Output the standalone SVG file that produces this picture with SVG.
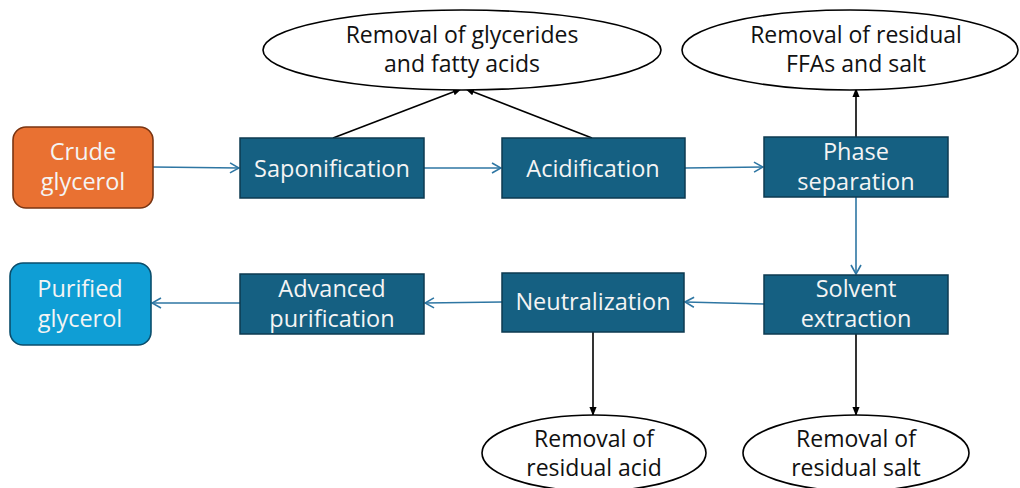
<svg xmlns="http://www.w3.org/2000/svg" width="1020" height="488" viewBox="0 0 1020 488">
<defs>
<style>
.box{fill:#156082;stroke:#0c3a50;stroke-width:1.5}
.ell{fill:#ffffff;stroke:#000000;stroke-width:1.6}
.wt{font-family:"Open Sans","Noto Sans",sans-serif;font-size:23.5px;fill:#f4f4f4;text-anchor:middle}
.bt{font-family:"Open Sans","Noto Sans",sans-serif;font-size:23px;fill:#111111;text-anchor:middle}
.bl{stroke:#2e76a3;stroke-width:1.6;fill:none;marker-end:url(#ab)}
.bk{stroke:#000000;stroke-width:1.6;fill:none;marker-end:url(#ak)}
</style>
<marker id="ab" viewBox="0 0 12 12" refX="11" refY="6" markerWidth="12" markerHeight="12" markerUnits="userSpaceOnUse" orient="auto">
<path d="M2,1 L11,6 L2,11" fill="none" stroke="#2e76a3" stroke-width="1.6"/>
</marker>
<marker id="ak" viewBox="0 0 10 10" refX="9" refY="5" markerWidth="9" markerHeight="9" markerUnits="userSpaceOnUse" orient="auto">
<path d="M0,1 L10,5 L0,9 Z" fill="#000000"/>
</marker>
</defs>
<rect width="1020" height="488" fill="#ffffff"/>
<g id="connectors">
<line class="bl" x1="153" y1="167" x2="239" y2="168"/>
<line class="bl" x1="424" y1="168" x2="501" y2="168"/>
<line class="bl" x1="685" y1="168" x2="763" y2="167"/>
<line class="bl" x1="856" y1="197" x2="856" y2="274"/>
<line class="bl" x1="764" y1="304" x2="685" y2="302"/>
<line class="bl" x1="502" y1="302" x2="425" y2="303"/>
<line class="bl" x1="240" y1="303" x2="152" y2="303"/>
<line class="bk" x1="333" y1="138" x2="461" y2="89"/>
<line class="bk" x1="592" y1="138" x2="466" y2="89"/>
<line class="bk" x1="856" y1="137" x2="856" y2="89"/>
<line class="bk" x1="593" y1="332" x2="593" y2="415"/>
<line class="bk" x1="856" y1="334" x2="856" y2="415"/>
</g>
<g id="crude">
<rect x="13" y="127" width="140" height="81" rx="13" fill="#e97132" stroke="#7a3512" stroke-width="1.6"/>
<text class="wt" x="83" y="160">Crude</text>
<text class="wt" x="83" y="190">glycerol</text>
</g>
<g id="saponification">
<rect class="box" x="240" y="138" width="184" height="60"/>
<text class="wt" x="332" y="177">Saponification</text>
</g>
<g id="acidification">
<rect class="box" x="502" y="138" width="183" height="60"/>
<text class="wt" x="593" y="177">Acidification</text>
</g>
<g id="phase">
<rect class="box" x="764" y="137" width="184" height="60"/>
<text class="wt" x="856" y="160">Phase</text>
<text class="wt" x="856" y="190">separation</text>
</g>
<g id="solvent">
<rect class="box" x="764" y="275" width="184" height="59"/>
<text class="wt" x="856" y="297">Solvent</text>
<text class="wt" x="856" y="327">extraction</text>
</g>
<g id="neutralization">
<rect class="box" x="502" y="273" width="182" height="59"/>
<text class="wt" x="593" y="310">Neutralization</text>
</g>
<g id="advanced">
<rect class="box" x="240" y="274" width="184" height="60"/>
<text class="wt" x="332" y="297">Advanced</text>
<text class="wt" x="332" y="327">purification</text>
</g>
<g id="purified">
<rect x="10" y="263" width="141" height="82" rx="13" fill="#0f9ed5" stroke="#0b4e6c" stroke-width="1.6"/>
<text class="wt" x="80" y="297">Purified</text>
<text class="wt" x="80" y="327">glycerol</text>
</g>
<g id="removal-glycerides">
<ellipse class="ell" cx="462" cy="50" rx="199" ry="40"/>
<text class="bt" x="462" y="43">Removal of glycerides</text>
<text class="bt" x="462" y="72">and fatty acids</text>
</g>
<g id="removal-ffas">
<ellipse class="ell" cx="850" cy="50" rx="168" ry="40"/>
<text class="bt" x="856" y="43">Removal of residual</text>
<text class="bt" x="856" y="72">FFAs and salt</text>
</g>
<g id="removal-acid">
<ellipse class="ell" cx="594" cy="453" rx="112" ry="38"/>
<text class="bt" x="594" y="447">Removal of</text>
<text class="bt" x="594" y="476">residual acid</text>
</g>
<g id="removal-salt">
<ellipse class="ell" cx="856" cy="453" rx="113" ry="38"/>
<text class="bt" x="856" y="447">Removal of</text>
<text class="bt" x="856" y="476">residual salt</text>
</g>
</svg>
